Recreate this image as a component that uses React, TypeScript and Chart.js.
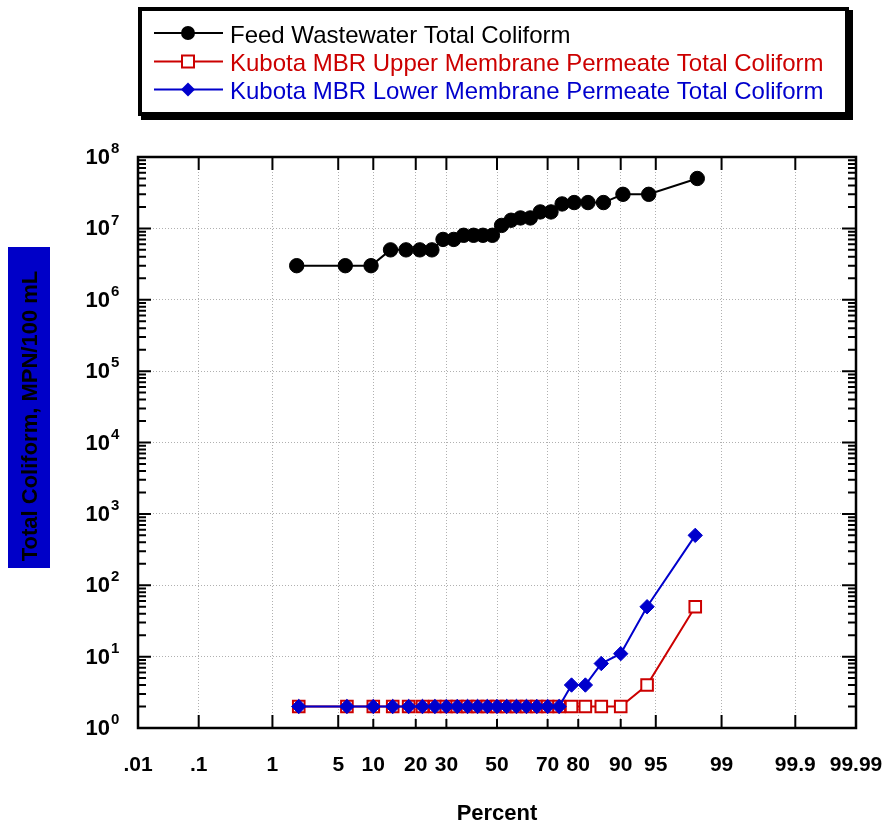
import React, { useEffect, useRef } from 'react';
import { Chart, registerables, LinearScale } from 'chart.js';

Chart.register(...registerables);

// ---------- data ----------
const xTickValues = [0.01, 0.1, 1, 5, 10, 20, 30, 50, 70, 80, 90, 95, 99, 99.9, 99.99];
const xTickLabels = ['.01', '.1', '1', '5', '10', '20', '30', '50', '70', '80', '90', '95', '99', '99.9', '99.99'];
const yDecades = [1, 10, 1e2, 1e3, 1e4, 1e5, 1e6, 1e7, 1e8];
const yExponents = ['0', '1', '2', '3', '4', '5', '6', '7', '8'];

const feedPercent = [1.9, 5.8, 9.6, 13.5, 17.3, 21.2, 25.0, 28.8, 32.7, 36.5, 40.4, 44.2, 48.1, 51.9, 55.8, 59.6, 63.5, 67.3, 71.2, 75.0, 78.8, 82.7, 86.5, 90.4, 94.2, 98.1];
const feedValues = [3e6, 3e6, 3e6, 5e6, 5e6, 5e6, 5e6, 7e6, 7e6, 8e6, 8e6, 8e6, 8e6, 1.1e7, 1.3e7, 1.4e7, 1.4e7, 1.7e7, 1.7e7, 2.2e7, 2.3e7, 2.3e7, 2.3e7, 3e7, 3e7, 5e7];

const permeatePercent = [2, 6, 10, 14, 18, 22, 26, 30, 34, 38, 42, 46, 50, 54, 58, 62, 66, 70, 74, 78, 82, 86, 90, 94, 98];
const upperValues = [2, 2, 2, 2, 2, 2, 2, 2, 2, 2, 2, 2, 2, 2, 2, 2, 2, 2, 2, 2, 2, 2, 2, 4, 50];
const lowerValues = [2, 2, 2, 2, 2, 2, 2, 2, 2, 2, 2, 2, 2, 2, 2, 2, 2, 2, 2, 4, 4, 8, 11, 50, 500];

const seriesNames = [
  'Feed Wastewater Total Coliform',
  'Kubota MBR Upper Membrane Permeate Total Coliform',
  'Kubota MBR Lower Membrane Permeate Total Coliform',
];
const yTitle = 'Total Coliform, MPN/100 mL';
const xTitle = 'Percent';

const BLACK = '#000000';
const RED = '#CC0000';
const BLUE = '#0000CC';
const FONT = '"Liberation Sans", Arial, Helvetica, sans-serif';

// ---------- normal probability transform ----------
function probit(p: number): number {
  const a = [-3.969683028665376e1, 2.209460984245205e2, -2.759285104469687e2, 1.38357751867269e2, -3.066479806614716e1, 2.506628277459239];
  const b = [-5.447609879822406e1, 1.615858368580409e2, -1.556989798598866e2, 6.680131188771972e1, -1.328068155288572e1];
  const c = [-7.784894002430293e-3, -3.223964580411365e-1, -2.400758277161838, -2.549732539343734, 4.374664141464968, 2.938163982698783];
  const d = [7.784695709041462e-3, 3.224671290700398e-1, 2.445134137142996, 3.754408661907416];
  const pl = 0.02425;
  if (p <= 0) return -8;
  if (p >= 1) return 8;
  let q: number;
  if (p < pl) {
    q = Math.sqrt(-2 * Math.log(p));
    return (((((c[0] * q + c[1]) * q + c[2]) * q + c[3]) * q + c[4]) * q + c[5]) / ((((d[0] * q + d[1]) * q + d[2]) * q + d[3]) * q + 1);
  }
  if (p > 1 - pl) {
    q = Math.sqrt(-2 * Math.log(1 - p));
    return -(((((c[0] * q + c[1]) * q + c[2]) * q + c[3]) * q + c[4]) * q + c[5]) / ((((d[0] * q + d[1]) * q + d[2]) * q + d[3]) * q + 1);
  }
  q = p - 0.5;
  const r = q * q;
  return ((((((a[0] * r + a[1]) * r + a[2]) * r + a[3]) * r + a[4]) * r + a[5]) * q) / (((((b[0] * r + b[1]) * r + b[2]) * r + b[3]) * r + b[4]) * r + 1);
}

function normCdf(z: number): number {
  let lo = 0, hi = 1;
  for (let i = 0; i < 60; i++) {
    const mid = (lo + hi) / 2;
    if (probit(mid) < z) lo = mid; else hi = mid;
  }
  return (lo + hi) / 2;
}

class ProbitScale extends (LinearScale as any) {
  static id = 'probit';
  determineDataLimits() {
    const o: any = (this as any).options;
    (this as any).min = o.min;
    (this as any).max = o.max;
  }
  buildTicks() {
    return xTickValues.map((v) => ({ value: v }));
  }
  getPixelForValue(value: number) {
    const self: any = this;
    const z0 = probit(self.min / 100);
    const z1 = probit(self.max / 100);
    return self.getPixelForDecimal((probit(value / 100) - z0) / (z1 - z0));
  }
  getValueForPixel(pixel: number) {
    const self: any = this;
    const z0 = probit(self.min / 100);
    const z1 = probit(self.max / 100);
    return 100 * normCdf(z0 + self.getDecimalForPixel(pixel) * (z1 - z0));
  }
}
Chart.register(ProbitScale as any);

// ---------- plugins ----------
const framePlugin = {
  id: 'frameTicks',
  beforeDatasetsDraw(chart: any) {
    const { ctx, chartArea } = chart;
    const { left, right, top, bottom } = chartArea;
    const xs = chart.scales.x;
    const ys = chart.scales.y;
    ctx.save();
    ctx.strokeStyle = BLACK;
    ctx.lineWidth = 2;
    ctx.beginPath();
    xTickValues.forEach((v) => {
      const px = xs.getPixelForValue(v);
      const lenB = v >= 10 && v <= 90 ? 9 : 13;
      ctx.moveTo(px, bottom);
      ctx.lineTo(px, bottom - lenB);
      ctx.moveTo(px, top);
      ctx.lineTo(px, top + 13);
    });
    for (let k = 0; k < 8; k++) {
      for (let m = 1; m <= 9; m++) {
        const py = ys.getPixelForValue(m * Math.pow(10, k));
        const len = m === 1 ? 13 : 8;
        ctx.moveTo(left, py);
        ctx.lineTo(left + len, py);
        ctx.moveTo(right, py);
        ctx.lineTo(right - (m === 1 ? 14 : 8), py);
      }
    }
    ctx.stroke();
    ctx.lineWidth = 2.5;
    ctx.strokeRect(left, top, right - left, bottom - top);
    ctx.restore();
  },
};

const yLabelPlugin = {
  id: 'yLabels',
  afterDraw(chart: any) {
    const { ctx } = chart;
    const ys = chart.scales.y;
    ctx.save();
    ctx.fillStyle = BLACK;
    ctx.textBaseline = 'middle';
    yDecades.forEach((v, i) => {
      const py = ys.getPixelForValue(v);
      ctx.font = `bold 22px ${FONT}`;
      ctx.textAlign = 'right';
      ctx.fillText('10', 110, py + 1);
      ctx.font = `bold 15px ${FONT}`;
      ctx.textAlign = 'left';
      ctx.fillText(yExponents[i], 111, py - 8);
    });
    ctx.restore();
  },
};

const yTitlePlugin = {
  id: 'yTitleBox',
  afterDraw(chart: any) {
    const { ctx } = chart;
    ctx.save();
    ctx.fillStyle = '#0000C8';
    ctx.fillRect(8, 247, 42, 321);
    ctx.translate(37, 416);
    ctx.rotate(-Math.PI / 2);
    ctx.fillStyle = BLACK;
    ctx.font = `bold 22px ${FONT}`;
    ctx.textAlign = 'center';
    ctx.textBaseline = 'alphabetic';
    ctx.fillText(yTitle, 0, 0);
    ctx.restore();
  },
};

const legendPlugin = {
  id: 'boxLegend',
  afterDraw(chart: any) {
    const { ctx } = chart;
    ctx.save();
    ctx.fillStyle = BLACK;
    ctx.fillRect(141, 10, 712, 110);
    ctx.fillRect(138, 7, 711, 109);
    ctx.fillStyle = '#FFFFFF';
    ctx.fillRect(142, 11, 703, 101);
    const colors = [BLACK, RED, BLUE];
    const rowsY = [33, 61.5, 89.5];
    seriesNames.forEach((name, i) => {
      const y = rowsY[i];
      ctx.strokeStyle = colors[i];
      ctx.lineWidth = 2;
      ctx.beginPath();
      ctx.moveTo(154, y);
      ctx.lineTo(223, y);
      ctx.stroke();
      ctx.beginPath();
      if (i === 0) {
        ctx.fillStyle = BLACK;
        ctx.arc(188, y, 7, 0, Math.PI * 2);
        ctx.fill();
      } else if (i === 1) {
        ctx.fillStyle = '#FFFFFF';
        ctx.fillRect(182, y - 6, 12, 12);
        ctx.strokeStyle = RED;
        ctx.lineWidth = 2;
        ctx.strokeRect(182, y - 6, 12, 12);
      } else {
        ctx.fillStyle = BLUE;
        ctx.moveTo(188, y - 7);
        ctx.lineTo(195, y);
        ctx.lineTo(188, y + 7);
        ctx.lineTo(181, y);
        ctx.closePath();
        ctx.fill();
      }
      ctx.fillStyle = colors[i];
      ctx.font = `24px ${FONT}`;
      ctx.textAlign = 'left';
      ctx.textBaseline = 'alphabetic';
      ctx.fillText(name, 230, y + 9.5);
    });
    ctx.restore();
  },
};

export default function App() {
  const canvasRef = useRef<HTMLCanvasElement | null>(null);

  useEffect(() => {
    const canvas = canvasRef.current;
    if (!canvas) return;
    Chart.defaults.font.family = FONT;
    const toPts = (xs: number[], ys: number[]) => xs.map((x, i) => ({ x, y: ys[i] }));
    const chart = new Chart(canvas, {
      type: 'line',
      data: {
        datasets: [
          {
            label: seriesNames[0],
            data: toPts(feedPercent, feedValues),
            borderColor: BLACK,
            backgroundColor: BLACK,
            borderWidth: 2,
            pointStyle: 'circle',
            pointRadius: 7.2,
            pointBorderWidth: 1,
            pointBackgroundColor: BLACK,
            pointBorderColor: BLACK,
            order: 0,
          },
          {
            label: seriesNames[2],
            data: toPts(permeatePercent, lowerValues),
            borderColor: BLUE,
            backgroundColor: BLUE,
            borderWidth: 2,
            pointStyle: 'rectRot',
            pointRadius: 7.2,
            pointBorderWidth: 1,
            pointBackgroundColor: BLUE,
            pointBorderColor: BLUE,
            order: 1,
          },
          {
            label: seriesNames[1],
            data: toPts(permeatePercent, upperValues),
            borderColor: RED,
            backgroundColor: '#FFFFFF',
            borderWidth: 2,
            pointStyle: 'rect',
            pointRadius: 8.2,
            pointBorderWidth: 2,
            pointBackgroundColor: '#FFFFFF',
            pointBorderColor: RED,
            order: 2,
          },
        ],
      } as any,
      options: {
        animation: false,
        responsive: false,
        maintainAspectRatio: false,
        layout: { padding: { top: 157, right: 31, left: 0, bottom: 0 } },
        plugins: { legend: { display: false }, tooltip: { enabled: false } },
        scales: {
          x: {
            type: 'probit',
            min: 0.01,
            max: 99.99,
            position: 'bottom',
            grid: { color: '#b0b0b0', lineWidth: 1, drawTicks: false },
            border: { display: false, dash: [1, 2] },
            ticks: {
              autoSkip: false,
              maxRotation: 0,
              minRotation: 0,
              padding: 25,
              color: BLACK,
              font: { size: 21, weight: 'bold' },
              callback: (_v: any, i: number) => xTickLabels[i],
            },
            title: {
              display: true,
              text: xTitle,
              color: BLACK,
              font: { size: 22, weight: 'bold', lineHeight: 1.0 },
              padding: { top: 0, bottom: 2 },
            },
            afterFit: (s: any) => {
              s.height = 99;
              s.paddingLeft = 0;
              s.paddingRight = 0;
            },
          } as any,
          y: {
            type: 'logarithmic',
            min: 1,
            max: 1e8,
            grid: { color: '#b0b0b0', lineWidth: 1, drawTicks: false },
            border: { display: false, dash: [1, 2] },
            ticks: { display: false },
            afterBuildTicks: (s: any) => {
              s.ticks = yDecades.map((v) => ({ value: v, major: true }));
            },
            afterFit: (s: any) => {
              s.width = 138;
              s.paddingTop = 0;
              s.paddingBottom = 0;
            },
          } as any,
        },
      },
      plugins: [framePlugin, yLabelPlugin, yTitlePlugin, legendPlugin],
    } as any);
    return () => chart.destroy();
  }, []);

  return (
    <div style={{ position: 'absolute', left: 0, top: 0, width: 887, height: 827, background: '#fff' }}>
      <canvas ref={canvasRef} width={887} height={827} style={{ display: 'block', width: 887, height: 827 }} />
    </div>
  );
}
